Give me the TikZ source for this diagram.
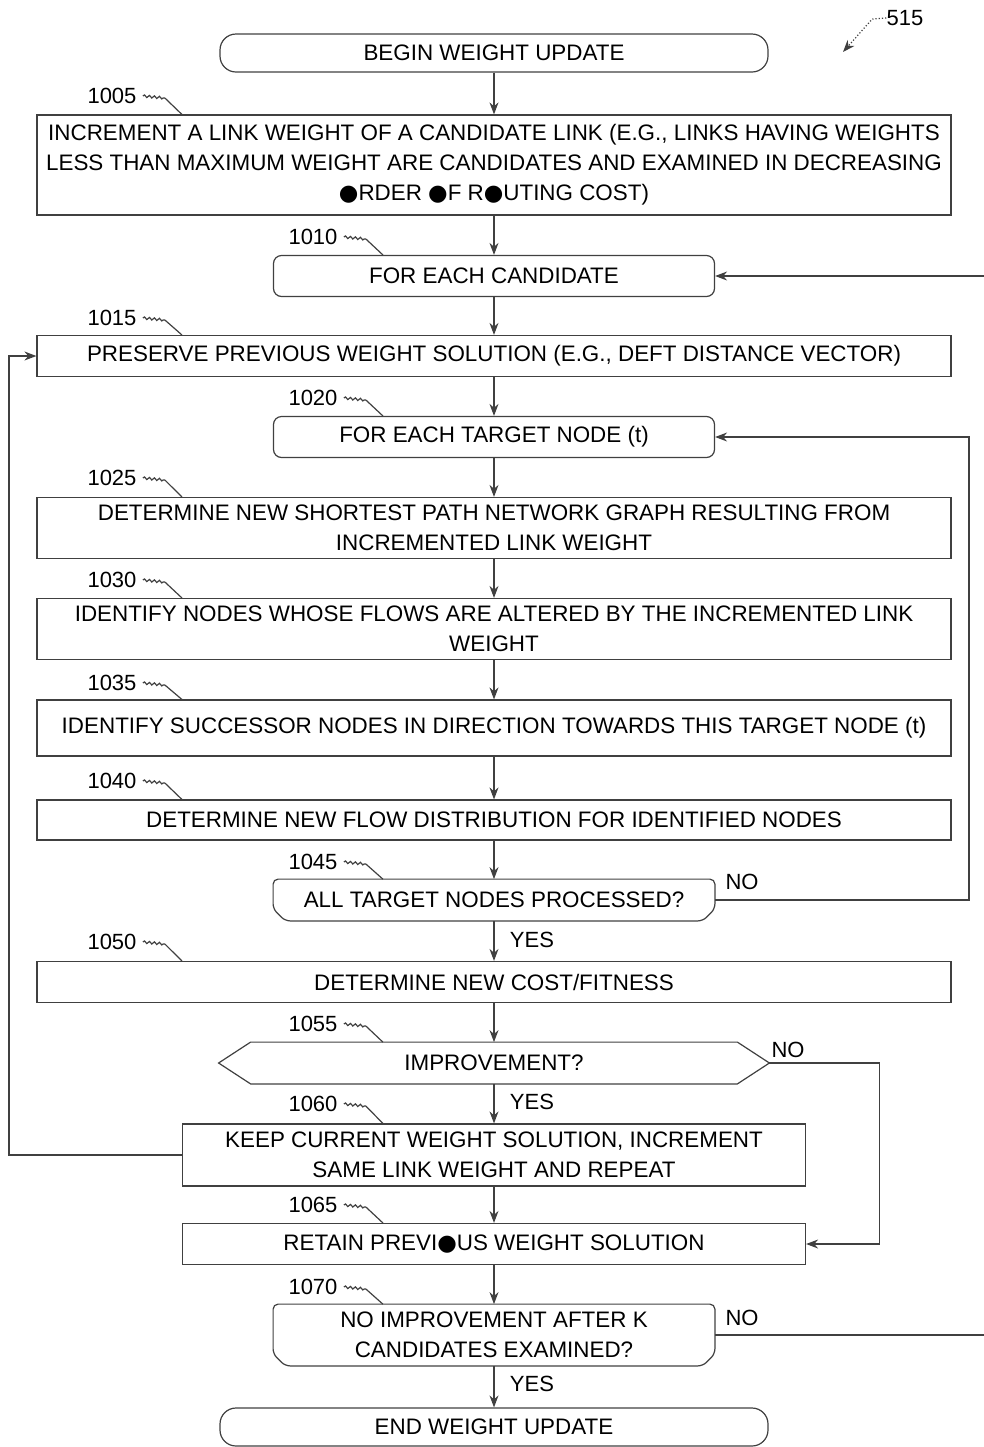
\documentclass[tikz,border=0pt]{standalone}
\usepackage{fontspec}
\setmainfont{Liberation Sans}
\newfontfamily\dejavu{DejaVu Sans}
\usetikzlibrary{arrows.meta,decorations.pathmorphing,calc}
\newcommand{\blob}{{\dejavu\char"25CF}}
\newcommand{\leader}[2]{%
  \draw[ln,decorate,decoration={snake,amplitude=0.6pt,segment length=2.5pt}]
    let \p1=(#1.east) in (\x1+3pt,\y1) -- (\x1+14pt,\y1-1pt);
  \draw[ln] let \p1=(#1.east), \p2=(#2.north) in (\x1+14pt,\y1-1pt) -- (\x1+22.5pt,\y2);}
\newcommand{\loopendpath}[1]{%
  \draw[ln,rounded corners=2.5pt] ([yshift=6pt]#1.south west) -- (#1.north west) -- (#1.north east)
    -- ([yshift=6pt]#1.south east) -- ([xshift=-6pt]#1.south east) -- ([xshift=6pt]#1.south west) -- cycle;}
\begin{document}
\begin{tikzpicture}[x=0.5pt,y=-0.5pt,
  ln/.style={line width=0.6pt,draw=black!75},
  arr/.style={ln,-{Stealth[length=6pt,width=4.5pt]}},
  txt/.style={align=center,inner sep=0pt,font=\fontsize{11.2}{15}\selectfont},
  lbl/.style={inner sep=0pt,font=\fontsize{11}{13}\selectfont},
  wide/.style={txt,draw,ln,rectangle,minimum width=457pt,minimum height=#1},
  mid/.style={txt,draw,ln,rectangle,minimum width=311.5pt,minimum height=#1},
  term/.style={txt,draw,ln,rounded corners=8pt,minimum width=274pt,minimum height=19pt},
  loopbox/.style={txt,draw,ln,rounded corners=4pt,minimum width=220.5pt,minimum height=20.5pt},
  loopend/.style={txt,minimum width=220.5pt,minimum height=#1},
  hexa/.style={txt,minimum width=275pt,minimum height=20.5pt}
]
\useasboundingbox (0,0) rectangle (984,1447);

% nodes
\node[term] (begin) at (494,53) {BEGIN WEIGHT UPDATE};
\node[wide=50pt] (n1005) at (494,165) {INCREMENT A LINK WEIGHT OF A CANDIDATE LINK (E.G., LINKS HAVING WEIGHTS\\LESS THAN MAXIMUM WEIGHT ARE CANDIDATES AND EXAMINED IN DECREASING\\\blob RDER \blob F R\blob UTING COST)};
\node[loopbox] (n1010) at (494,276) {FOR EACH CANDIDATE};
\node[wide=20.5pt] (n1015) at (494,356) {PRESERVE PREVIOUS WEIGHT SOLUTION (E.G., DEFT DISTANCE VECTOR)};
\node[loopbox] (n1020) at (494,437) {FOR EACH TARGET NODE (t)};
\node[wide=30.5pt] (n1025) at (494,528) {DETERMINE NEW SHORTEST PATH NETWORK GRAPH RESULTING FROM\\INCREMENTED LINK WEIGHT};
\node[wide=30.5pt] (n1030) at (494,629) {IDENTIFY NODES WHOSE FLOWS ARE ALTERED BY THE INCREMENTED LINK\\WEIGHT};
\node[wide=28pt] (n1035) at (494,728) {IDENTIFY SUCCESSOR NODES IN DIRECTION TOWARDS THIS TARGET NODE (t)};
\node[wide=20pt] (n1040) at (494,820) {DETERMINE NEW FLOW DISTRIBUTION FOR IDENTIFIED NODES};
\node[loopend=20.5pt] (n1045) at (494,900) {ALL TARGET NODES PROCESSED?};
\node[wide=20.5pt] (n1050) at (494,982) {DETERMINE NEW COST/FITNESS};
\node[hexa] (n1055) at (494,1063) {IMPROVEMENT?};
\node[mid=31pt] (n1060) at (494,1155) {KEEP CURRENT WEIGHT SOLUTION, INCREMENT\\SAME LINK WEIGHT AND REPEAT};
\node[mid=20.5pt] (n1065) at (494,1244) {RETAIN PREVI\blob US WEIGHT SOLUTION};
\node[loopend=30.5pt] (n1070) at (494,1335) {NO IMPROVEMENT AFTER K\\CANDIDATES EXAMINED?};
\node[term] (end) at (494,1427) {END WEIGHT UPDATE};

% custom outlines
\loopendpath{n1045}
\loopendpath{n1070}
\draw[ln] (n1055.west) -- ([xshift=16pt]n1055.north west) -- ([xshift=-16pt]n1055.north east)
  -- (n1055.east) -- ([xshift=-16pt]n1055.south east) -- ([xshift=16pt]n1055.south west) -- cycle;

% reference numerals
\node[lbl] (l515) at (905,18) {515};
\coordinate (c515) at (843,52);
\draw[arr,densely dotted] (l515.west) -- ++(-14,1) -- (c515);
\node[lbl] (l1005) at (112,96) {1005};
\node[lbl] (l1010) at (313,237) {1010};
\node[lbl] (l1015) at (112,318) {1015};
\node[lbl] (l1020) at (313,398) {1020};
\node[lbl] (l1025) at (112,478) {1025};
\node[lbl] (l1030) at (112,580) {1030};
\node[lbl] (l1035) at (112,683) {1035};
\node[lbl] (l1040) at (112,781) {1040};
\node[lbl] (l1045) at (313,862) {1045};
\node[lbl] (l1050) at (112,942) {1050};
\node[lbl] (l1055) at (313,1024) {1055};
\node[lbl] (l1060) at (313,1104) {1060};
\node[lbl] (l1065) at (313,1205) {1065};
\node[lbl] (l1070) at (313,1287) {1070};
\leader{l1005}{n1005}
\leader{l1010}{n1010}
\leader{l1015}{n1015}
\leader{l1020}{n1020}
\leader{l1025}{n1025}
\leader{l1030}{n1030}
\leader{l1035}{n1035}
\leader{l1040}{n1040}
\leader{l1045}{n1045}
\leader{l1050}{n1050}
\leader{l1055}{n1055}
\leader{l1060}{n1060}
\leader{l1065}{n1065}
\leader{l1070}{n1070}

% main flow
\draw[arr] (begin.south) -- (n1005.north);
\draw[arr] (n1005.south) -- (n1010.north);
\draw[arr] (n1010.south) -- (n1015.north);
\draw[arr] (n1015.south) -- (n1020.north);
\draw[arr] (n1020.south) -- (n1025.north);
\draw[arr] (n1025.south) -- (n1030.north);
\draw[arr] (n1030.south) -- (n1035.north);
\draw[arr] (n1035.south) -- (n1040.north);
\draw[arr] (n1040.south) -- (n1045.north);
\draw[arr] (n1045.south) -- (n1050.north);
\draw[arr] (n1050.south) -- (n1055.north);
\draw[arr] (n1055.south) -- (n1060.north);
\draw[arr] (n1060.south) -- (n1065.north);
\draw[arr] (n1065.south) -- (n1070.north);
\draw[arr] (n1070.south) -- (end.north);

% loops
\draw[arr] (n1045.east) -- ++(254,0) |- (n1020.east);
\draw[arr] (n1070.east) -- ++(300,0) |- (n1010.east);
\draw[arr] (n1060.west) -- ++(-173,0) |- (n1015.west);
\draw[arr] (n1055.east) -- ++(110,0) |- (n1065.east);

% branch labels
\node[lbl] at (742,882) {NO};
\node[lbl] at (742,1318) {NO};
\node[lbl] at (788,1050) {NO};
\node[lbl] at (532,940) {YES};
\node[lbl] at (532,1102) {YES};
\node[lbl] at (532,1384) {YES};
\end{tikzpicture}
\end{document}
